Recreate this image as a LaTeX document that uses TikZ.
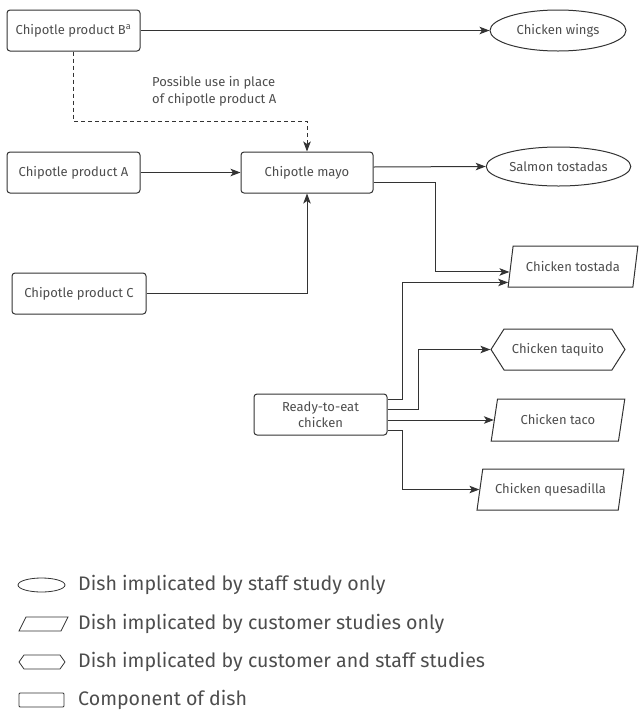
\documentclass[tikz,border=0pt]{standalone}
\usepackage{fontspec}
\setmainfont{Fira Sans}
\usetikzlibrary{shapes.geometric,shapes.symbols,arrows.meta,calc}
\definecolor{ln}{HTML}{333333}
\definecolor{tx}{HTML}{4D4D4D}
\begin{document}
\begin{tikzpicture}[x=1pt,y=-1pt,
  base/.style={draw=ln, line width=1pt, text=tx, font=\fontsize{13}{15.5}\selectfont, inner sep=2pt},
  comp/.style={base, rounded corners=3pt, minimum width=133pt, minimum height=41pt},
  staff/.style={base, ellipse, minimum width=136pt, minimum height=41pt},
  cust/.style={base, trapezium, trapezium left angle=74, trapezium right angle=106, trapezium stretches=true, minimum height=41pt},
  both/.style={base, signal, signal to=west and east, signal pointer angle=115, minimum width=134pt, minimum height=41pt},
  arr/.style={draw=ln, line width=1pt, -{Stealth[length=10pt,width=7.5pt,inset=2.5pt]}},
  legtxt/.style={text=tx, font=\fontsize{19.6}{23}\selectfont, anchor=west, inner sep=0pt},
  legicon/.style={draw=ln, line width=0.8pt}
]
\useasboundingbox (0,0) rectangle (638,713);

% nodes
\node[comp] (B) at (73.5,30.5) {Chipotle product B\textsuperscript{a}};
\node[comp] (A) at (73.5,172.5) {Chipotle product A};
\node[comp, minimum width=134pt] (C) at (79,293.5) {Chipotle product C};
\node[comp, minimum width=132pt] (mayo) at (307,172.5) {Chipotle mayo};
\node[comp, align=center] (rte) at (320.5,414.5) {Ready-to-eat\\chicken};

\node[staff] (wings) at (558,30.5) {Chicken wings};
\node[staff, minimum width=135pt, minimum height=39pt] (salmon) at (558.5,166.5) {Salmon tostadas};
\node[cust, minimum width=130pt] (tos) at (573,266.5) {Chicken tostada};
\node[both] (taq) at (558,349.5) {Chicken taquito};
\node[cust, minimum width=134pt, minimum height=42pt] (taco) at (558,420) {Chicken taco};
\node[cust, minimum width=147pt] (ques) at (550.5,489.5) {Chicken quesadilla};

\node[text=tx, font=\fontsize{13}{17}\selectfont, align=left, anchor=west, inner sep=0pt] (note) at (152,91.5) {Possible use in place\\of chipotle product A};

% points on slanted edges
\coordinate (t1) at ($(tos.bottom left corner)!0.37!(tos.top left corner)$);
\coordinate (t2) at ($(tos.bottom left corner)!0.12!(tos.top left corner)$);
\coordinate (t3) at ($(taco.bottom left corner)!0.5!(taco.top left corner)$);
\coordinate (t4) at ($(ques.bottom left corner)!0.5!(ques.top left corner)$);

% connectors
\draw[arr] (B) -- (wings);
\draw[arr, dashed, dash pattern=on 4pt off 3pt] (B.south) -- ++(0,69.5) -| (mayo.north);
\draw[arr] (A) -- (mayo);
\draw[arr] ([yshift=5.5pt]mayo.east) -- (salmon.west);
\draw[arr] ([yshift=-9.5pt]mayo.east) -- ++(62,0) |- (t1);
\draw[arr] (C.east) -| (mayo.south);
\draw[arr] ([yshift=15.5pt]rte.east) -- ++(15,0) |- (t2);
\draw[arr] ([yshift=5.5pt]rte.east) -- ++(31,0) |- (taq.west);
\draw[arr] ([yshift=-5.5pt]rte.east) -- (t3);
\draw[arr] ([yshift=-15.5pt]rte.east) -- ++(15,0) |- (t4);

% legend
\draw[legicon] (41.5,585) ellipse [x radius=23.5pt, y radius=7pt];
\draw[legicon] (19,631) -- (61,631) -- (68,617) -- (26,617) -- cycle;
\draw[legicon] (19,662) -- (24,655) -- (60,655) -- (65,662) -- (60,669) -- (24,669) -- cycle;
\draw[legicon, rounded corners=1pt] (19,693) rectangle (64,707);
\node[legtxt] (l1) at (78,585) {Dish implicated by staff study only};
\node[legtxt] (l2) at (78,624) {Dish implicated by customer studies only};
\node[legtxt] (l3) at (78,662) {Dish implicated by customer and staff studies};
\node[legtxt] (l4) at (78,700) {Component of dish};
\end{tikzpicture}
\end{document}
